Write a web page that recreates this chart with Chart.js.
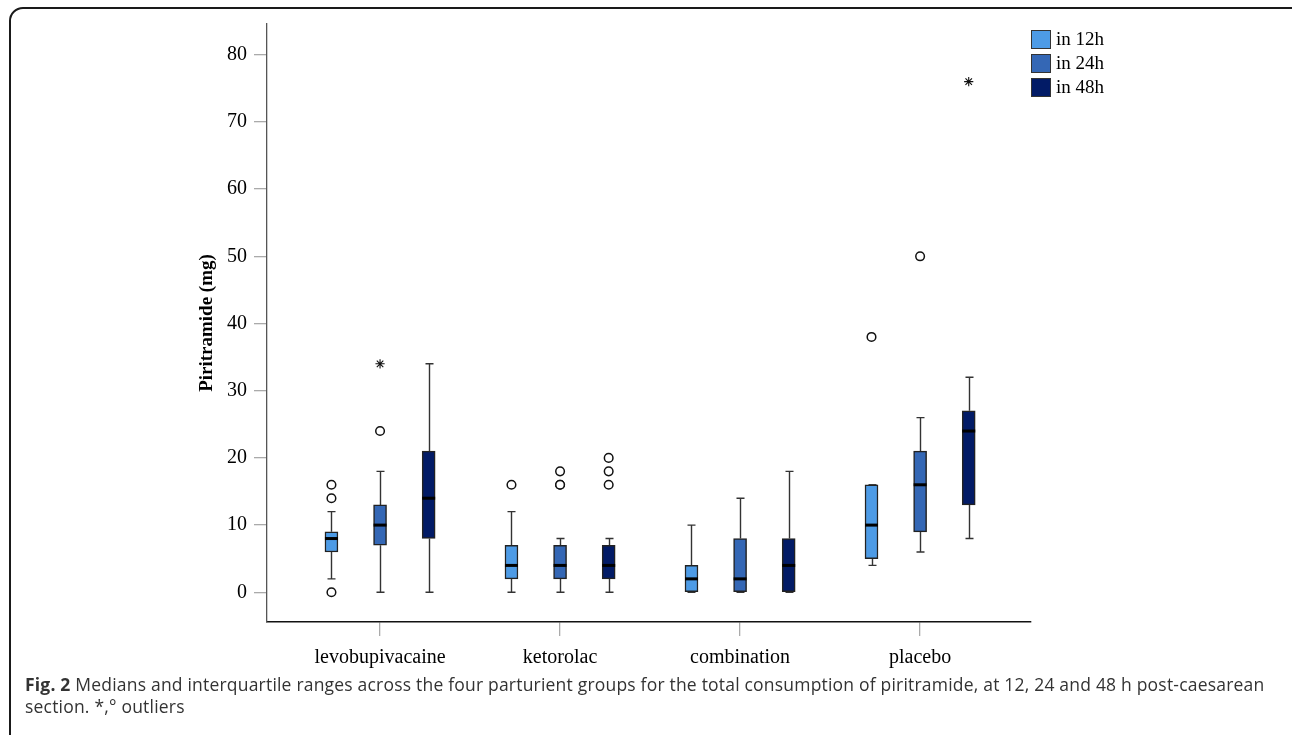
<!DOCTYPE html>
<html>
<head>
<meta charset="utf-8">
<script src="https://cdn.jsdelivr.net/npm/chart.js@4.4.1/dist/chart.umd.min.js"></script>
<style>
  html, body { margin: 0; padding: 0; background: #fff; }
  body { width: 1292px; height: 735px; position: relative; overflow: hidden; }
  #frame { position: absolute; left: 9px; top: 7px; width: 1300px; height: 800px; border: 2px solid #1a1a1a; border-radius: 14px; box-sizing: border-box; }
  #chart { position: absolute; left: 0; top: 0; }
  #legend { position: absolute; left: 1031px; top: 27px; font-family: 'Liberation Serif', serif; font-size: 19px; color: #000; }
  .item { display: flex; align-items: center; height: 24px; }
  .sw { width: 20px; height: 19px; border: 1.5px solid #333; box-sizing: border-box; margin-right: 5px; }
  #caption { position: absolute; left: 25px; top: 673px; width: 1250px; font-family: 'Open Sans', sans-serif; font-size: 17.5px; letter-spacing: 0.2px; line-height: 22px; color: #333; }
</style>
</head>
<body>
<div id="frame"></div>
<canvas id="chart" width="1292" height="735"></canvas>
<div id="legend"></div>
<div id="caption"><b>Fig. 2</b> Medians and interquartile ranges across the four parturient groups for the total consumption of piritramide, at 12, 24 and 48 h post-caesarean section. *,° outliers</div>
<script>
const groups = ['levobupivacaine', 'ketorolac', 'combination', 'placebo'];
const series = ['in 12h', 'in 24h', 'in 48h'];
const colors = ['#4d9be6', '#3467b5', '#021b66'];
const yTicks = [0, 10, 20, 30, 40, 50, 60, 70, 80];

// lower whisker, Q1, median, Q3, upper whisker for each group
const low12 = [2, 0, 0, 4];
const q1_12 = [6, 2, 0, 5];
const med12 = [8, 4, 2, 10];
const q3_12 = [9, 7, 4, 16];
const high12 = [12, 12, 10, 16];
const circles12 = [[0, 14, 16], [16], [], [38]];
const stars12 = [[], [], [], []];

const low24 = [0, 0, 0, 6];
const q1_24 = [7, 2, 0, 9];
const med24 = [10, 4, 2, 16];
const q3_24 = [13, 7, 8, 21];
const high24 = [18, 8, 14, 26];
const circles24 = [[24], [16, 16, 18], [], [50]];
const stars24 = [[34], [], [], []];

const low48 = [0, 0, 0, 8];
const q1_48 = [8, 2, 0, 13];
const med48 = [14, 4, 4, 24];
const q3_48 = [21, 7, 8, 27];
const high48 = [34, 8, 18, 32];
const circles48 = [[], [16, 18, 20], [], []];
const stars48 = [[], [], [], [76]];

const stats = [
  { low: low12, q1: q1_12, med: med12, q3: q3_12, high: high12, circles: circles12, stars: stars12 },
  { low: low24, q1: q1_24, med: med24, q3: q3_24, high: high24, circles: circles24, stars: stars24 },
  { low: low48, q1: q1_48, med: med48, q3: q3_48, high: high48, circles: circles48, stars: stars48 }
];
const offsets = [-0.27, 0, 0.27];
const boxWidth = 13;

const datasets = [];
stats.forEach((s, k) => {
  datasets.push({
    type: 'bar',
    label: series[k],
    data: groups.map((g, i) => ({ x: i + offsets[k], y: [s.q1[i], s.q3[i]] })),
    backgroundColor: colors[k],
    borderColor: '#222',
    borderWidth: 1.5,
    borderSkipped: false,
    barThickness: boxWidth,
    grouped: false,
    stats: s
  });
});

const circlePts = [];
const starPts = [];
stats.forEach((s, k) => {
  groups.forEach((g, i) => {
    s.circles[i].forEach(v => circlePts.push({ x: i + offsets[k], y: v }));
    s.stars[i].forEach(v => starPts.push({ x: i + offsets[k], y: v }));
  });
});
datasets.push({ type: 'scatter', label: 'outliers', data: circlePts, pointStyle: 'circle', pointRadius: 4.3, borderWidth: 1.5, borderColor: '#111', backgroundColor: '#fff' });
datasets.push({ type: 'scatter', label: 'extremes', data: starPts, pointStyle: 'star', pointRadius: 4.6, borderWidth: 1.1, borderColor: '#111' });

// whiskers behind the boxes, medians on top
const boxWhiskers = {
  id: 'boxWhiskers',
  beforeDatasetsDraw(chart) {
    const { ctx, scales: { x, y } } = chart;
    ctx.save();
    ctx.strokeStyle = '#333';
    ctx.lineWidth = 1.4;
    chart.data.datasets.forEach(ds => {
      if (!ds.stats) return;
      ds.data.forEach((d, i) => {
        const px = Math.round(x.getPixelForValue(d.x)) + 0.5;
        const ends = [[ds.stats.q3[i], ds.stats.high[i]], [ds.stats.q1[i], ds.stats.low[i]]];
        ends.forEach(([from, to]) => {
          ctx.beginPath();
          ctx.moveTo(px, y.getPixelForValue(from));
          ctx.lineTo(px, y.getPixelForValue(to));
          ctx.moveTo(px - 4, y.getPixelForValue(to));
          ctx.lineTo(px + 4, y.getPixelForValue(to));
          ctx.stroke();
        });
      });
    });
    ctx.restore();
  },
  afterDatasetsDraw(chart) {
    const { ctx, scales: { x, y } } = chart;
    ctx.save();
    ctx.strokeStyle = '#000';
    ctx.lineWidth = 3;
    chart.data.datasets.forEach(ds => {
      if (!ds.stats) return;
      ds.data.forEach((d, i) => {
        const px = x.getPixelForValue(d.x);
        const py = y.getPixelForValue(ds.stats.med[i]);
        ctx.beginPath();
        ctx.moveTo(px - boxWidth / 2, py);
        ctx.lineTo(px + boxWidth / 2, py);
        ctx.stroke();
      });
    });
    ctx.restore();
  }
};

const serif = 'Liberation Serif';

new Chart(document.getElementById('chart'), {
  type: 'bar',
  data: { datasets },
  plugins: [boxWhiskers],
  options: {
    responsive: false,
    animation: false,
    layout: { padding: { left: 190, top: 24, right: 261, bottom: 63 } },
    plugins: { legend: { display: false }, tooltip: { enabled: false } },
    scales: {
      x: {
        type: 'linear',
        min: -0.628,
        max: 3.616,
        offset: false,
        afterBuildTicks: sc => { sc.ticks = groups.map((g, i) => ({ value: i })); },
        afterFit: sc => { sc.height = 50; },
        grid: { offset: false, drawOnChartArea: false, drawTicks: true, tickLength: 14, color: '#aaa', lineWidth: 1.3 },
        border: { display: true, color: '#111', width: 1.5 },
        ticks: { callback: v => groups[v], font: { family: serif, size: 20 }, color: '#000', padding: 10, maxRotation: 0, autoSkip: false }
      },
      y: {
        min: -4.42,
        max: 84.57,
        afterBuildTicks: sc => { sc.ticks = yTicks.map(v => ({ value: v })); },
        afterFit: sc => { sc.width = 77; },
        grid: { drawOnChartArea: false, drawTicks: true, tickLength: 13, color: '#aaa', lineWidth: 1.3 },
        border: { display: true, color: '#555', width: 1.3 },
        ticks: { font: { family: serif, size: 20 }, color: '#000', padding: 7 },
        title: { display: true, text: 'Piritramide (mg)', font: { family: serif, size: 19, weight: 'bold' }, color: '#000', padding: { top: 6, bottom: 0 } }
      }
    }
  }
});

const legend = document.getElementById('legend');
series.forEach((s, k) => {
  const row = document.createElement('div');
  row.className = 'item';
  row.innerHTML = '<span class="sw" style="background:' + colors[k] + '"></span><span>' + s + '</span>';
  legend.appendChild(row);
});
</script>
</body>
</html>
